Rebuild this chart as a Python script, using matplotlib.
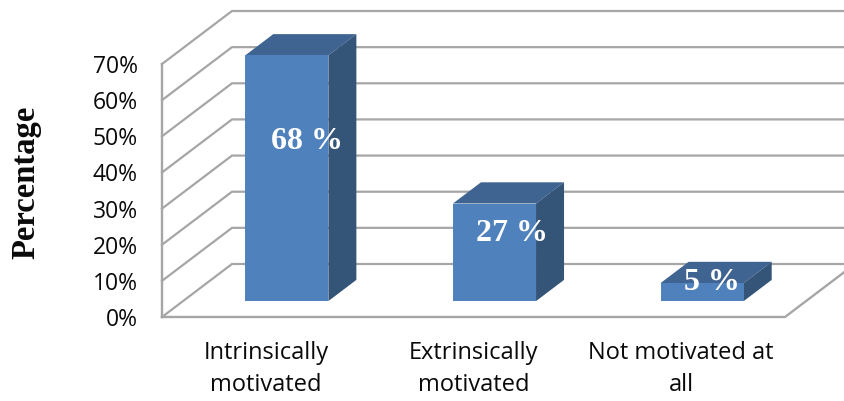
import matplotlib
matplotlib.use('Agg')
import matplotlib.pyplot as plt
from matplotlib.patches import Polygon

categories = ['Intrinsically\nmotivated', 'Extrinsically\nmotivated', 'Not motivated at\nall']
values = [68, 27, 5]
value_labels = ['68 %', '27 %', '5 %']
y_ticks = [0, 10, 20, 30, 40, 50, 60, 70]

W, H = 845, 401
# oblique offset of one full unit of depth, in x (category) and y (percent) units
DX = 70 / 207.67
DY = 53 / 3.614
BAR_W = 0.4
D0, D1 = 0.30, 0.70
GRID = '#a6a6a6'

fig = plt.figure(figsize=(W / 100, H / 100), dpi=100)
ax = fig.add_axes([162 / W, 1 - 317 / H, 623 / W, 253 / H])
ax.set_xlim(0, 3)
ax.set_ylim(0, 70)
ax.patch.set_visible(False)
for s in ax.spines.values():
    s.set_visible(False)


def proj(x, d, y):
    return (x + d * DX, y + d * DY)


# walls and floor
for t in y_ticks:
    a = proj(0, 0, t)
    b = proj(0, 1, t)
    c = proj(3, 1, t)
    ax.plot([a[0], b[0], c[0]], [a[1], b[1], c[1]], color=GRID, lw=1.6, clip_on=False,
            solid_joinstyle='miter', zorder=1)
ax.plot([0, 0], [0, 70], color=GRID, lw=1.7, clip_on=False, zorder=1)
f = proj(3, 1, 0)
ax.plot([0, 3, f[0]], [0, 0, f[1]], color=GRID, lw=1.7, clip_on=False, zorder=1)

# bars
xs = [0.5, 1.5, 2.5]
for x, v in zip(xs, values):
    l, r = x - BAR_W / 2, x + BAR_W / 2
    top = [proj(l, D0, v), proj(r, D0, v), proj(r, D1, v), proj(l, D1, v)]
    side = [proj(r, D0, 0), proj(r, D1, 0), proj(r, D1, v), proj(r, D0, v)]
    front = [proj(l, D0, 0), proj(r, D0, 0), proj(r, D0, v), proj(l, D0, v)]
    ax.add_patch(Polygon(top, fc='#3f6492', ec='none', clip_on=False, zorder=2))
    ax.add_patch(Polygon(side, fc='#345478', ec='none', clip_on=False, zorder=2))
    ax.add_patch(Polygon(front, fc='#4f81bd', ec='none', clip_on=False, zorder=3))

# value labels sit over the bars
label_pos = [(0.70, 48.6), (1.686, 23.0), (2.648, 9.5)]
for (lx, ly), s in zip(label_pos, value_labels):
    ax.text(lx, ly, s, color='white', fontsize=23, fontweight='bold',
            family='Liberation Serif', ha='center', va='center', zorder=5)

ax.set_yticks(y_ticks)
ax.set_yticklabels([f'{t}%' for t in y_ticks], family='Open Sans', fontsize=16.5, color='#0a0a0a')
ax.set_xticks(xs)
ax.set_xticklabels(categories, family='Open Sans', fontsize=17, color='#0a0a0a', linespacing=1.4)
ax.tick_params(axis='both', length=0)
ax.tick_params(axis='y', pad=17.5)
ax.tick_params(axis='x', pad=17.5)

fig.text(25.5 / W, 1 - 182 / H, 'Percentage', rotation=90, family='Liberation Serif',
         fontweight='bold', fontsize=23.5, ha='center', va='center', color='#0a0a0a')

fig.savefig('out.png', dpi=100)
